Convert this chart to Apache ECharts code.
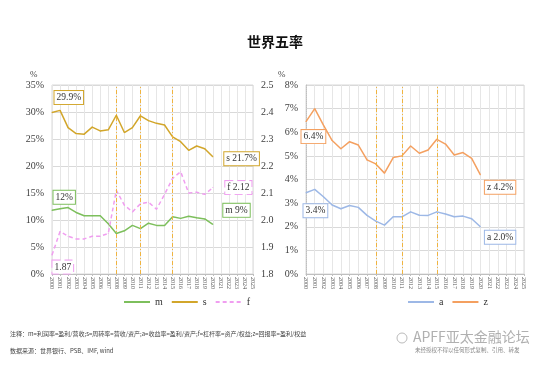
<!DOCTYPE html>
<html><head><meta charset="utf-8">
<script src="https://cdn.jsdelivr.net/npm/echarts@6/dist/echarts.min.js"></script>
<style>html,body{margin:0;padding:0;background:#fff}#c{width:550px;height:365px}</style>
</head><body><div id="c"></div>
<script>
const years = ['2000','2001','2002','2003','2004','2005','2006','2007','2008','2009','2010','2011','2012','2013','2014','2015','2016','2017','2018','2019','2020','2021','2022','2023','2024','2025'];
const mVals = [11.8,12.1,12.3,11.4,10.8,10.8,10.8,9.3,7.5,8.0,9.0,8.4,9.4,9.0,9.0,10.6,10.3,10.7,10.4,10.2,9.2];
const sVals = [29.9,30.3,27.1,26.0,25.9,27.2,26.5,26.7,29.4,26.2,27.1,29.3,28.4,27.9,27.6,25.4,24.5,22.9,23.7,23.2,21.7];
const fVals = [1.87,1.957,1.94,1.93,1.93,1.94,1.94,1.95,2.11,2.055,2.03,2.06,2.066,2.04,2.095,2.154,2.179,2.10,2.103,2.095,2.12];
const aVals = [3.44,3.58,3.27,2.92,2.76,2.90,2.82,2.48,2.24,2.07,2.42,2.42,2.63,2.49,2.48,2.63,2.54,2.42,2.45,2.34,2.0];
const zVals = [6.45,7.0,6.3,5.65,5.3,5.6,5.46,4.83,4.66,4.27,4.93,5.0,5.42,5.11,5.25,5.7,5.5,5.04,5.14,4.89,4.2];
const eventYears = ['2008','2011','2015'];
const leftTicks = {min:0, max:35, interval:5};
const rightTicks = {min:1.8, max:2.5, interval:0.1};
const zTicks = {min:0, max:8, interval:1};
const labelTexts = {
  m:['12%','m 9%'], s:['29.9%','s 21.7%'], f:['1.87','f 2.12'],
  a:['3.4%','a 2.0%'], z:['6.4%','z 4.2%']
};
</script>
<script>
const colors = {m:'#7dbf5c', s:'#d2a62b', f:'#f09ef0', a:'#9db8e6', z:'#f4a060'};
const offsets = {
  s:[[-3,-15],[6,2]], m:[[-4,-13],[5,-14]], f:[[-5,12],[7,0]],
  z:[[-10,15],[-1,12.5]], a:[[-8,18],[-1,10.5]]
};
const serif = 'Liberation Serif';
function mkData(name, vals){
  return vals.map((v,i)=>{
    if(i===0 || i===vals.length-1){
      const k = i===0?0:1;
      return {value:v, label:{show:true, position:'right', distance:5, offset:offsets[name][k],
        formatter: labelTexts[name][k], fontFamily:serif, fontSize:9.5, color:'#333',
        backgroundColor:'#fff', borderColor:colors[name], borderWidth:1,
        borderType: name==='f'?'dashed':'solid', padding:[2,2,1,2]}};
    }
    return v;
  });
}
function mkSeries(name, vals, xi, yi, dashed, mark){
  const s = {name, type:'line', xAxisIndex:xi, yAxisIndex:yi, data:mkData(name, vals),
    symbol:'circle', symbolSize:1, showSymbol:true, itemStyle:{color:colors[name]},
    lineStyle:{color:colors[name], width:1.5, type: dashed?[4,3]:'solid'},
    z: 3};
  if(mark){
    s.markLine = {silent:true, symbol:'none', label:{show:false},
      lineStyle:{color:'#f0b440', type:[4,2,1,2], width:1},
      data: eventYears.map(y=>({xAxis:y}))};
  }
  return s;
}
const axisLabelStyle = {fontFamily:serif, fontSize:10, color:'#404040'};
const xAx = (gi)=>({type:'category', gridIndex:gi, data:years, boundaryGap:false,
  axisLine:{lineStyle:{color:'#bfbfbf'}}, axisTick:{show:true, lineStyle:{color:'#bfbfbf'}, length:2},
  axisLabel:{rotate:-90, fontFamily:serif, fontSize:6, color:'#555', margin:3, interval:0},
  splitLine:{show:true, lineStyle:{color:'#e6e6e6'}}});
const legendBase = {itemWidth:26, itemHeight:8, itemGap:8, top:292,
  itemStyle:{opacity:0, borderWidth:0},
  textStyle:{fontFamily:serif, fontSize:10, color:'#333'}};
const chart = echarts.init(document.getElementById('c'), null, {renderer:'canvas'});
chart.setOption({
  animation:false,
  backgroundColor:'#fff',
  title:{text:'世界五率', left:'center', top:30, textStyle:{fontFamily:'Noto Sans CJK SC', fontSize:14, fontWeight:'bold', color:'#111'}},
  grid:[
    {left:52, right:297, top:85, bottom:91, show:true, borderColor:'#d9d9d9', borderWidth:1},
    {left:306, right:26, top:85, bottom:91, show:true, borderColor:'#d9d9d9', borderWidth:1}
  ],
  xAxis:[xAx(0), xAx(1)],
  yAxis:[
    {type:'value', gridIndex:0, min:leftTicks.min, max:leftTicks.max, interval:leftTicks.interval,
      axisLabel:Object.assign({formatter:'{value}%'}, axisLabelStyle),
      axisLine:{show:false}, axisTick:{show:false}, splitLine:{lineStyle:{color:'#d9d9d9'}}},
    {type:'value', gridIndex:0, position:'right', min:rightTicks.min, max:rightTicks.max, interval:rightTicks.interval,
      axisLabel:Object.assign({formatter:v=>v.toFixed(1)}, axisLabelStyle),
      axisLine:{show:false}, axisTick:{show:false}, splitLine:{show:false}},
    {type:'value', gridIndex:1, min:zTicks.min, max:zTicks.max, interval:zTicks.interval,
      axisLabel:Object.assign({formatter:'{value}%'}, axisLabelStyle),
      axisLine:{show:true, lineStyle:{color:'#bfbfbf', type:'dotted'}}, axisTick:{show:false}, splitLine:{lineStyle:{color:'#d9d9d9'}}}
  ],
  legend:[
    Object.assign({data:['m','s','f'], left:118}, legendBase),
    Object.assign({data:['a','z'], left:402}, legendBase)
  ],
  graphic:[
    {type:'text', left:30, top:70, style:{text:'%', font:'9px "Liberation Serif"', fill:'#444'}},
    {type:'text', left:278, top:70, style:{text:'%', font:'9px "Liberation Serif"', fill:'#444'}},
    {type:'text', left:10, top:331, style:{text:'注释：m=利润率=盈利/营收;s=周转率=营收/资产;a=收益率=盈利/资产;f=杠杆率=资产/权益;z=回报率=盈利/权益', font:'6px "Noto Sans CJK SC"', fill:'#444'}},
    {type:'text', left:10, top:348, style:{text:'数据来源：世界银行、PSB、IMF, wind', font:'6px "Noto Sans CJK SC"', fill:'#444'}},
    {type:'circle', shape:{cx:402, cy:338, r:5}, style:{fill:'none', stroke:'#bbb', lineWidth:1}},
    {type:'text', left:413, top:330, style:{text:'APFF亚太金融论坛', font:'14px "Noto Sans CJK SC"', fill:'#b0b0b0'}},
    {type:'text', left:415, top:347, style:{text:'未经授权不得以任何形式复制、引用、转发', font:'5.5px "Noto Sans CJK SC"', fill:'#888'}}
  ],
  series:[
    mkSeries('m', mVals, 0, 0, false, true),
    mkSeries('s', sVals, 0, 0, false, false),
    mkSeries('f', fVals, 0, 1, true, false),
    mkSeries('a', aVals, 1, 2, false, true),
    mkSeries('z', zVals, 1, 2, false, false)
  ]
});
</script></body></html>
